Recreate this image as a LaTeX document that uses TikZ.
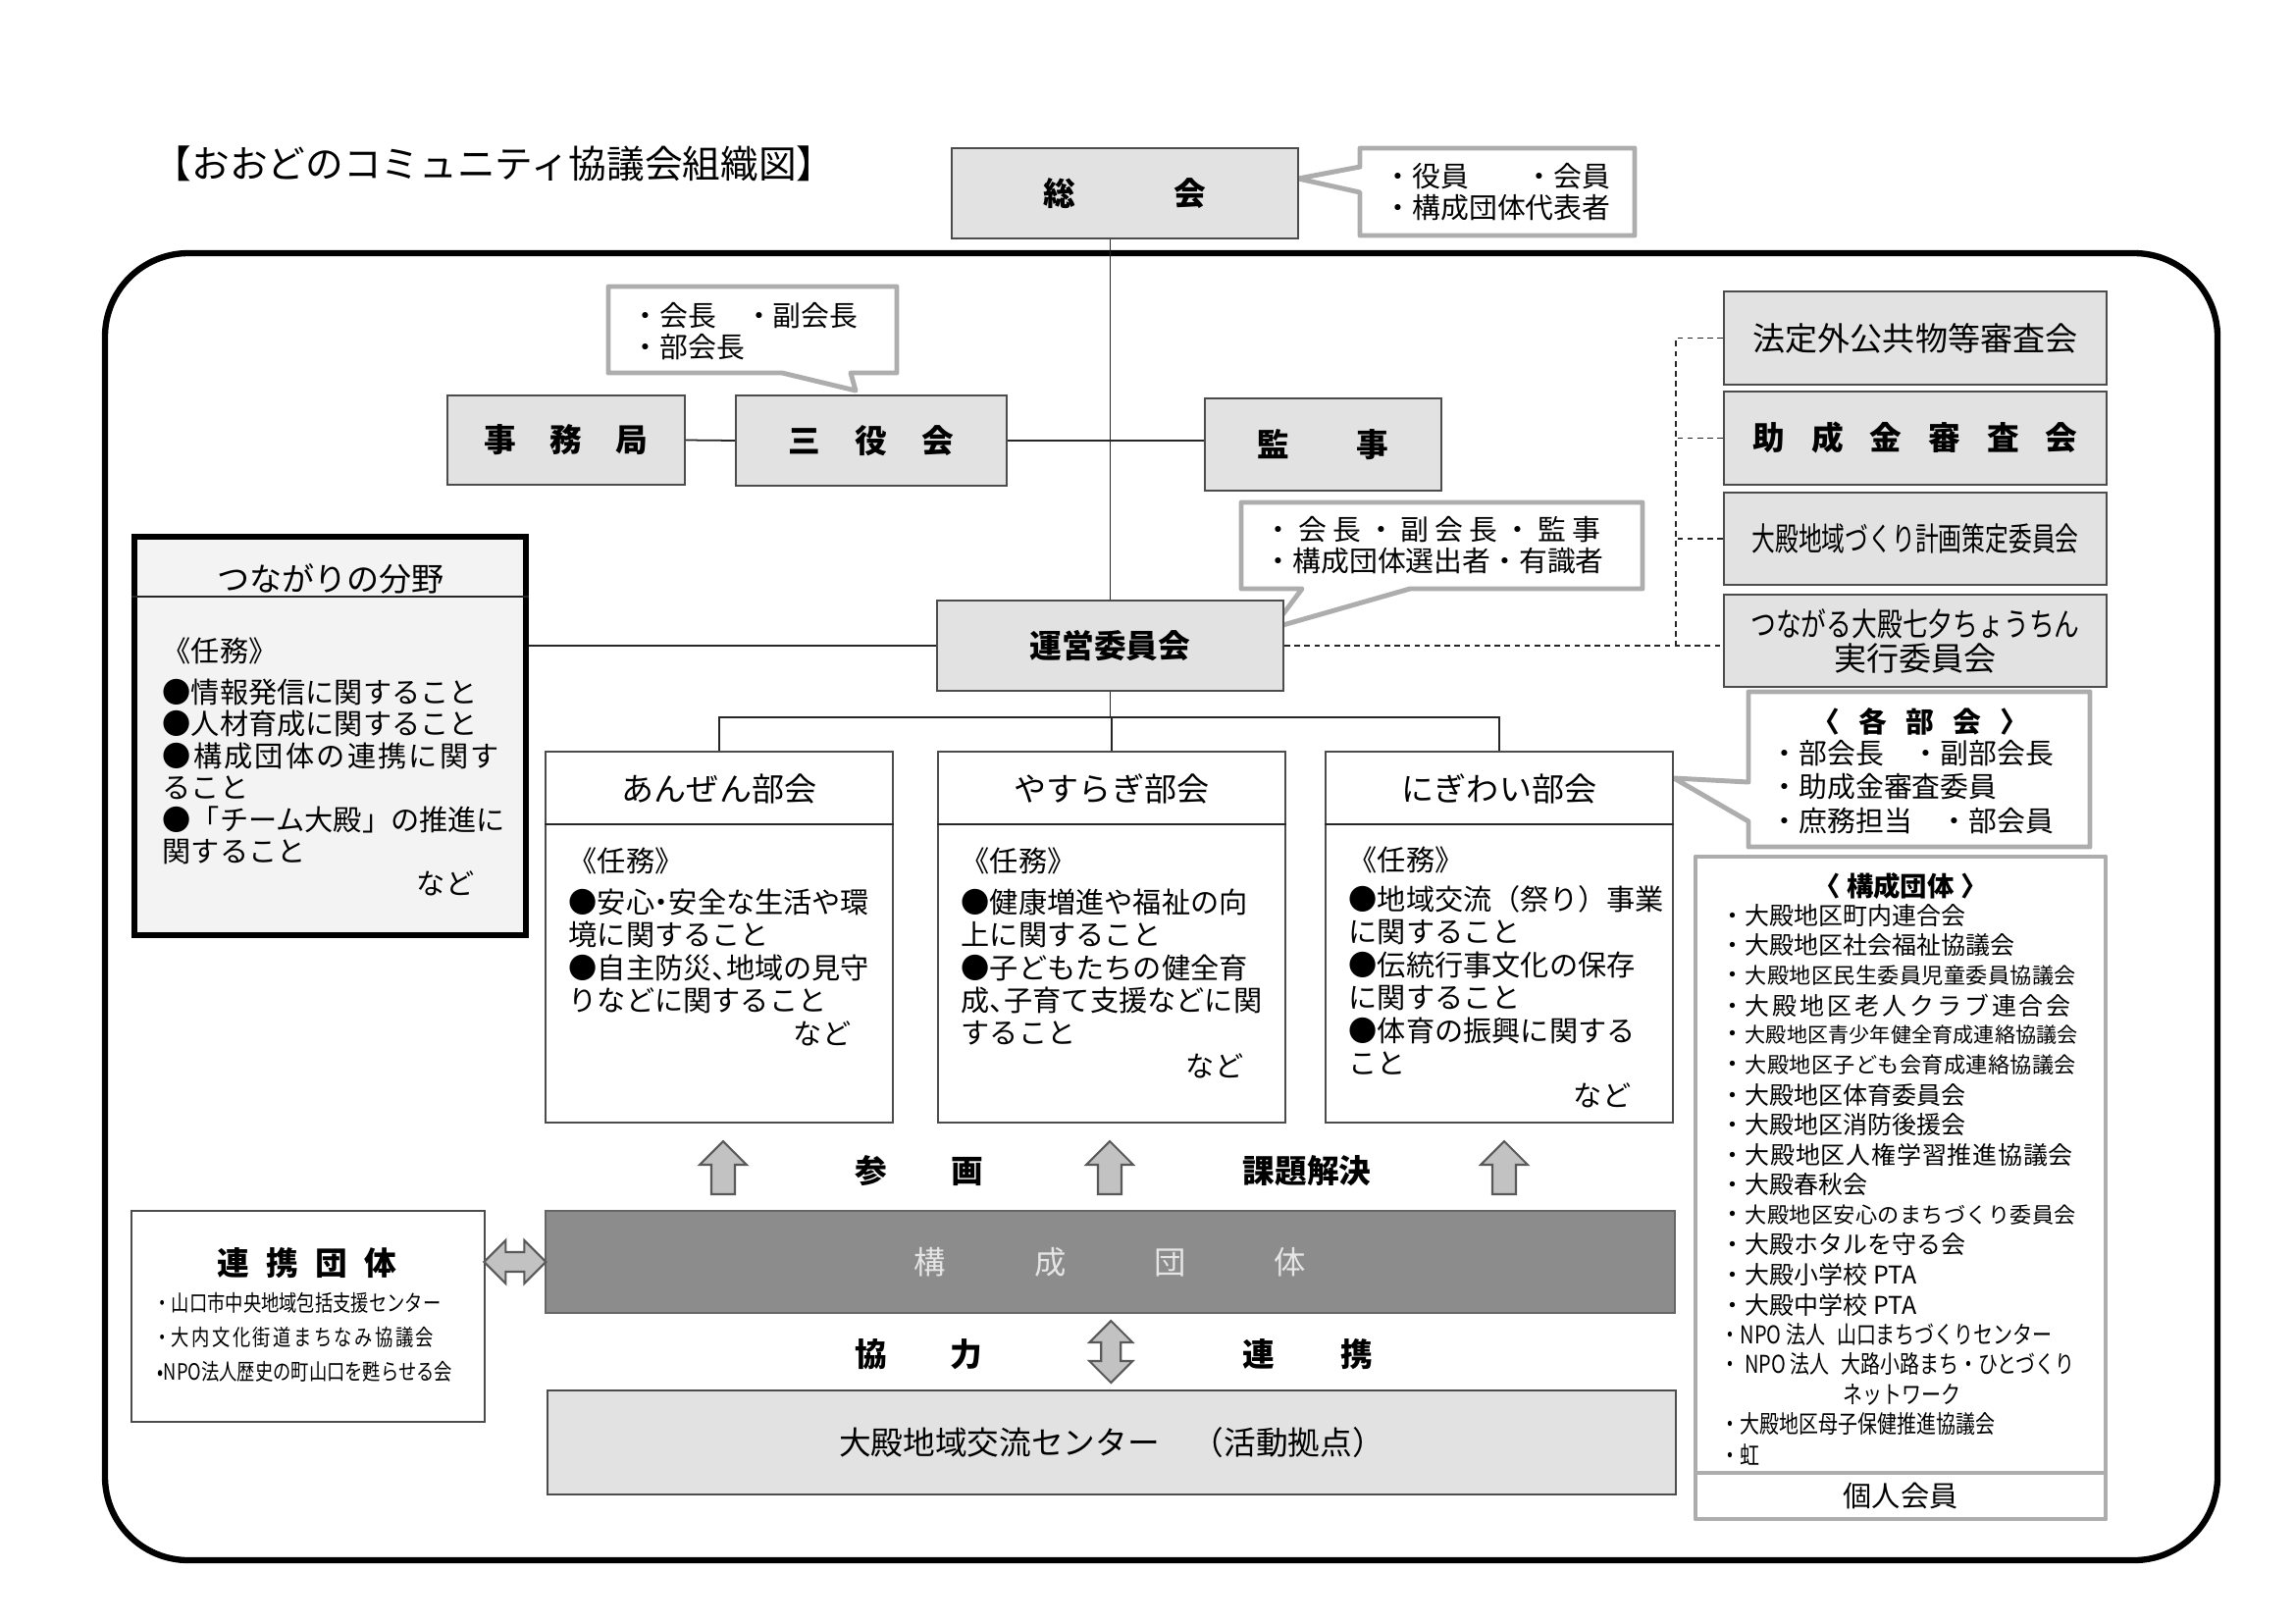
\documentclass[tikz,border=0pt]{standalone}
\usepackage{fontspec}
\setmainfont{Noto Sans CJK JP}
\newfontfamily\narrowfont[FakeStretch=0.8]{Noto Sans CJK JP}
\usepackage{graphicx}
\usetikzlibrary{positioning,calc}
\definecolor{panel}{HTML}{E2E2E2}
\definecolor{panellight}{HTML}{F3F3F3}
\definecolor{bubble}{HTML}{ADADAD}
\definecolor{bar}{HTML}{8C8C8C}
\definecolor{arrowfill}{HTML}{C2C2C2}

\newcommand\fsz[1]{\fontsize{#1}{#1}\selectfont}
\newcommand\halfl[1]{\makebox[0.5em][l]{#1}}
\newcommand\halfc[1]{\makebox[0.5em][c]{#1}}
\makeatletter
\newcommand\spreadbox[2]{\makebox[#1][s]{\spr@loop#2\spr@end}}
\def\spr@end{}
\def\spr@loop#1{#1\futurelet\spr@next\spr@check}
\def\spr@check{\ifx\spr@next\spr@end\else\hfil\expandafter\spr@loop\fi}
\makeatother

\begin{document}
\begin{tikzpicture}[x=0.01cm, y=-0.01cm,
  panelbox/.style={draw=black!70, line width=0.5pt, fill=panel, inner sep=0pt},
  whitebox/.style={draw=black!70, line width=0.5pt, fill=white, inner sep=0pt},
  callout/.style={draw=bubble, line width=1.4pt, fill=white, line join=round},
  link/.style={draw=black!85, line width=0.5pt},
  dashlink/.style={draw=black!85, line width=0.5pt, dash pattern=on 1.6pt off 1.3pt},
  blockarrow/.style={draw=black!65, fill=arrowfill, line width=0.6pt},
  headfont/.style={font=\bfseries\fsz{9.3}},
  plainfont/.style={font=\fsz{9.4}},
  notetext/.style={font=\fsz{8.2}, anchor=west, inner sep=0pt},
  bodytext/.style={font=\fsz{8.3}, anchor=west, inner sep=0pt},
  listtext/.style={font=\fsz{7.1}, anchor=west, inner sep=0pt},
  smalltext/.style={font=\narrowfont\fsz{6.5}, anchor=west, inner sep=0pt},
  uparrow/.pic={\draw[blockarrow] (-12,27) -- (-12,-3) -- (-24,-3) -- (0,-27) -- (24,-3) -- (12,-3) -- (12,27) -- cycle;},
  dblarrow/.pic={\draw[blockarrow] (-31.5,0) -- (-9.5,-22) -- (-9.5,-10) -- (9.5,-10) -- (9.5,-22) -- (31.5,0) -- (9.5,22) -- (9.5,10) -- (-9.5,10) -- (-9.5,22) -- cycle;}]
\useasboundingbox (0,0) rectangle (2339,1654);

% title and outer frame
\node[anchor=west, inner sep=0pt, font=\fsz{11}] (title) at (156,167) {【おおどのコミュニティ協議会組織図】};
\draw[line width=1.8pt, rounded corners=0.85cm] (107,258) rectangle (2260,1590);

% speech bubbles
\draw[callout] (1386,151) -- (1666,151) -- (1666,240) -- (1386,240) -- (1386,196) -- (1323,182) -- (1386,170) -- cycle;
\node[notetext] (memberA) at (1410,180) {・役員　　・会員};
\node[notetext] (memberB) at (1410,212) {・構成団体代表者};

\draw[callout] (620,292) -- (914,292) -- (914,380) -- (867,380) -- (872,398) -- (797,380) -- (620,380) -- cycle;
\node[notetext] (officerA) at (643,322) {・会長　・副会長};
\node[notetext] (officerB) at (643,354) {・部会長};

\draw[callout] (1265,512) -- (1674,512) -- (1674,600) -- (1437,600) -- (1297,640) -- (1327,600) -- (1265,600) -- cycle;
\node[notetext] (steerA) at (1288,540) {\spreadbox{3.42cm}{・会長・副会長・監事}};
\node[notetext] (steerB) at (1288,572) {・構成団体選出者・有識者};

\draw[callout] (1782,705) -- (2130,705) -- (2130,863) -- (1782,863) -- (1782,837) -- (1706,793) -- (1782,797) -- cycle;
\node[font=\bfseries\fsz{8.2}] (sectionHead) at (1957,735) {\spreadbox{2.2cm}{〈各部会〉}};
\node[notetext] (sectionA) at (1804,768) {・部会長　・副部会長};
\node[notetext] (sectionB) at (1804,802) {・助成金審査委員};
\node[notetext] (sectionC) at (1804,837) {・庶務担当　・部会員};

% member organisations
\draw[callout] (1728,873) rectangle (2146,1548);
\draw[draw=bubble, line width=1.4pt] (1728,1501) -- (2146,1501);
\node[font=\bfseries\fsz{7.8}] (listHead) at (1937,903) {〈 構成団体 〉};
\foreach \entry [count=\i] in {
  {・大殿地区町内連合会},
  {・大殿地区社会福祉協議会},
  {・{\fsz{6.3}\spreadbox{3.37cm}{大殿地区民生委員児童委員協議会}}},
  {・\spreadbox{3.32cm}{大殿地区老人クラブ連合会}},
  {・{\fsz{6.0}\spreadbox{3.39cm}{大殿地区青少年健全育成連絡協議会}}},
  {・{\fsz{6.3}\spreadbox{3.37cm}{大殿地区子ども会育成連絡協議会}}},
  {・大殿地区体育委員会},
  {・大殿地区消防後援会},
  {・\spreadbox{3.34cm}{大殿地区人権学習推進協議会}},
  {・大殿春秋会},
  {・{\fsz{6.3}\spreadbox{3.37cm}{大殿地区安心のまちづくり委員会}}},
  {・大殿ホタルを守る会},
  {・大殿小学校 PTA},
  {・大殿中学校 PTA},
  {\narrowfont ・NPO 法人\hspace{0.12cm}山口まちづくりセンター},
  {\narrowfont ・ NPO 法人\hspace{0.12cm}大路小路まち・ひとづくり},
  {\narrowfont\makebox[3.7cm]{ネットワーク}},
  {\narrowfont ・大殿地区母子保健推進協議会},
  {\narrowfont ・虹}}
  \node[listtext] (org\i) at (1753, 902.5+30.5*\i) {\entry};
\node[font=\fsz{8.3}] (individual) at (1937,1524) {個人会員};

% upper boxes
\node[panelbox, headfont, minimum width=3.53cm, minimum height=0.92cm] (sokai) at (1146.5,197) {\spreadbox{1.66cm}{総会}};
\node[panelbox, headfont, minimum width=2.42cm, minimum height=0.91cm] (jimukyoku) at (577,448.5) {\spreadbox{1.66cm}{事務局}};
\node[panelbox, headfont, minimum width=2.76cm, minimum height=0.92cm] (sanyaku) at (888,449) {\spreadbox{1.68cm}{三役会}};
\node[panelbox, headfont, minimum width=2.41cm, minimum height=0.94cm] (kanji) at (1348.5,453) {\spreadbox{1.33cm}{監事}};
\node[panelbox, headfont, minimum width=3.53cm, minimum height=0.92cm] (unei) at (1131.5,658) {運営委員会};

% committees on the right
\node[panelbox, plainfont, minimum width=3.9cm, minimum height=0.95cm] (hotei) at (1952,344.5) {法定外公共物等審査会};
\node[panelbox, headfont, minimum width=3.9cm, minimum height=0.95cm] (josei) at (1952,446.5) {\spreadbox{3.31cm}{助成金審査会}};
\node[panelbox, plainfont, minimum width=3.9cm, minimum height=0.94cm] (keikaku) at (1952,549) {\scalebox{0.72}[1]{大殿地域づくり計画策定委員会}};
\node[panelbox, font=\fontsize{9.4}{10}\selectfont, align=center, minimum width=3.9cm, minimum height=0.94cm] (tanabata) at (1952,653) {\scalebox{0.78}[1]{つながる大殿七夕ちょうちん}\\実行委員会};

% connections
\draw[link] (unei.north) -- (unei.north |- sokai.south);
\draw[link] (jimukyoku.east) -- (sanyaku.west);
\draw[link] (sanyaku.east) -- (sanyaku.east -| kanji.west);
\draw[dashlink] (unei.east) -- (unei.east -| tanabata.west);
\draw[dashlink] (hotei.west) -- ++(-48,0) coordinate (dashtop) -- (dashtop |- unei.east);
\draw[dashlink] (josei.west) -- (josei.west -| dashtop);
\draw[dashlink] (keikaku.west) -- (keikaku.west -| dashtop);

% field of ties
\node[draw, line width=1.6pt, fill=panellight, minimum width=3.99cm, minimum height=4.06cm] (tsunagari) at (336.5,750) {};
\draw[link] ($(tsunagari.north west)+(0,64)$) -- ($(tsunagari.north east)+(0,64)$);
\node[plainfont] (tsunagariTitle) at (337,590) {つながりの分野};
\draw[link] (unei.west) -- (unei.west -| tsunagari.east);
\node[bodytext] (tsunagariDuty) at (165,663) {《任務》};
\foreach \entry [count=\i] in {●情報発信に関すること, ●人材育成に関すること, {\spreadbox{3.43cm}{●構成団体の連携に関す}}, ること, ●「チーム大殿」の推進に, 関すること}
  \node[bodytext] (tsunagariLine\i) at (165, 672.3+32.7*\i) {\entry};
\node[bodytext, anchor=east] (tsunagariEtc) at (484,900) {など};

% three sections
\foreach \nm/\x/\ttl in {anzen/733/あんぜん部会, yasuragi/1133/やすらぎ部会, nigiwai/1528/にぎわい部会} {
  \node[whitebox, minimum width=3.54cm, minimum height=3.78cm] (\nm) at (\x,955) {};
  \draw[link] ($(\nm.north west)+(0,75)$) -- ($(\nm.north east)+(0,75)$);
  \node[plainfont] (\nm Title) at (\x,804) {\ttl};
}
\coordinate (fork) at (1132,731);
\draw[link] (unei.south) -- (unei.south |- fork);
\draw[link] (anzen.north) |- (fork) -| (nigiwai.north);
\draw[link] (yasuragi.north) -- (yasuragi.north |- fork);

\node[bodytext] (anzenDuty) at (579,877) {《任務》};
\foreach \entry [count=\i] in {●安心\halfc{・}安全な生活や環, 境に関すること, ●自主防災\halfl{、}地域の見守, りなどに関すること}
  \node[bodytext] (anzenLine\i) at (579, 885.5+33.5*\i) {\entry};
\node[bodytext, anchor=east] (anzenEtc) at (868,1053) {など};

\node[bodytext] (yasuragiDuty) at (979,877) {《任務》};
\foreach \entry [count=\i] in {●健康増進や福祉の向, 上に関すること, ●子どもたちの健全育, 成\halfl{、}子育て支援などに関, すること}
  \node[bodytext] (yasuragiLine\i) at (979, 885.5+33.5*\i) {\entry};
\node[bodytext, anchor=east] (yasuragiEtc) at (1268,1086) {など};

\node[bodytext] (nigiwaiDuty) at (1374,876) {《任務》};
\foreach \entry [count=\i] in {●地域交流（祭り）事業, に関すること, ●伝統行事文化の保存, に関すること, ●体育の振興に関する, こと}
  \node[bodytext] (nigiwaiLine\i) at (1374, 883+33.5*\i) {\entry};
\node[bodytext, anchor=east] (nigiwaiEtc) at (1663,1116) {など};

% participation arrows
\foreach \x in {737,1131,1533}
  \pic at (\x,1190) {uparrow};
\node[headfont] (sankaku) at (937,1193) {\spreadbox{1.30cm}{参画}};
\node[headfont] (kadai) at (1332,1193) {課題解決};

% member bar, partners, centre
\node[draw=black!60, line width=0.5pt, fill=bar, text=white!90!black, font=\fsz{9.2}, minimum width=11.51cm, minimum height=1.04cm] (kosei) at (1131.5,1286) {\spreadbox{3.99cm}{構成団体}};
\node[whitebox, minimum width=3.6cm, minimum height=2.15cm] (renkei) at (314,1341.5) {};
\node[headfont] (renkeiTitle) at (313,1287) {\spreadbox{1.82cm}{連携団体}};
\node[smalltext] (renkeiA) at (156,1328) {・山口市中央地域包括支援センター};
\node[smalltext] (renkeiB) at (156,1363) {・\spreadbox{2.67cm}{大内文化街道まちなみ協議会}};
\node[smalltext] (renkeiC) at (160,1398) {•NPO法人歴史の町山口を甦らせる会};
\pic at ($(renkei.east |- kosei.west)!0.5!(kosei.west)$) {dblarrow};

\node[panelbox, font=\fsz{9.3}, minimum width=11.5cm, minimum height=1.06cm] (koryu) at (1133,1470) {大殿地域交流センター　（活動拠点）};
\pic[rotate=90] at ($(kosei.south)!0.5!(koryu.north)$) {dblarrow};
\node[headfont] (kyoryoku) at (936.5,1380) {\spreadbox{1.29cm}{協力}};
\node[headfont] (renkeiLabel) at (1333,1380) {\spreadbox{1.32cm}{連携}};
\end{tikzpicture}
\end{document}
